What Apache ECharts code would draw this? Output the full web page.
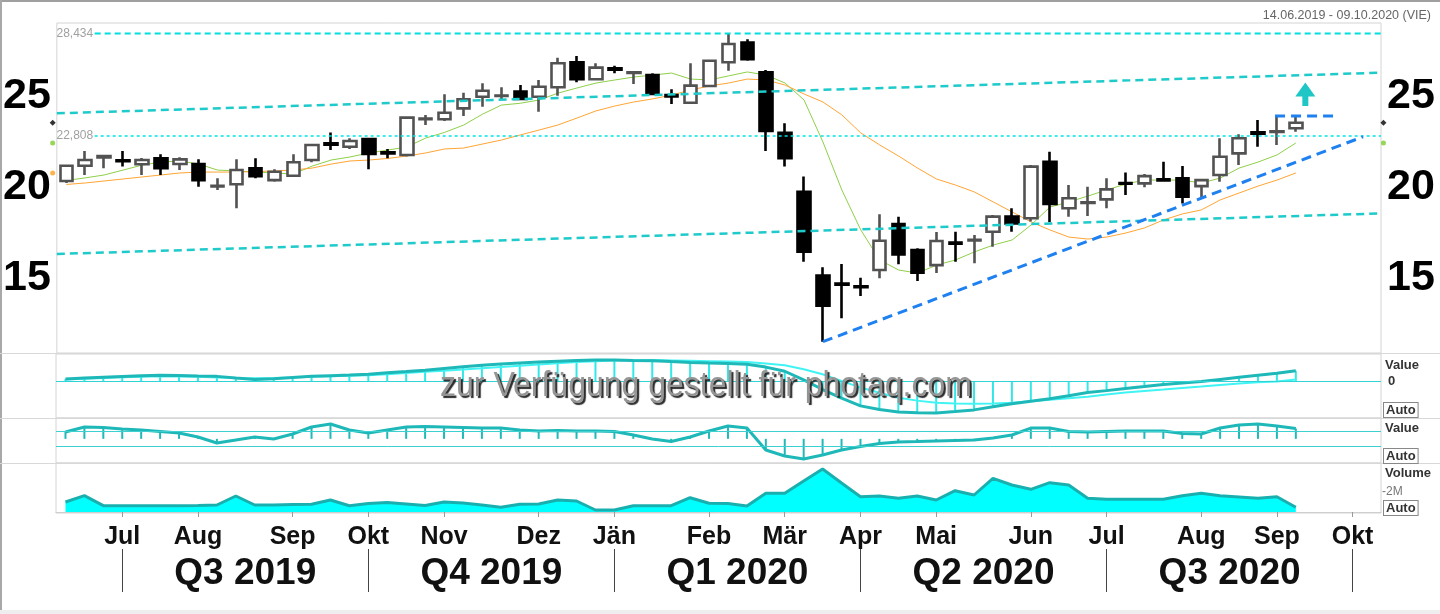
<!DOCTYPE html>
<html><head><meta charset="utf-8">
<script src="https://cdn.jsdelivr.net/npm/echarts@6/dist/echarts.min.js"></script>
<style>html,body{margin:0;padding:0;background:#fff}#c{width:1440px;height:614px}</style>
</head><body><div id="c"></div>
<script>
// ---------- data ----------
const weekStart = '2019-06-10';
const weekCount = 70;
const categories = [];
(function(){ const d = new Date(weekStart + 'T00:00:00Z'); for (let i = 0; i < weekCount; i++) { categories.push(new Date(d.getTime() + i * 7 * 864e5).toISOString().slice(0,10)); } })();

const opens  = [20.33,21.17,21.62,21.47,21.25,21.58,21.26,21.26,20.03,20.15,21.03,20.38,20.62,21.48,22.40,22.21,22.64,21.90,21.76,23.72,23.72,24.32,24.96,25.00,25.24,24.96,25.48,26.85,25.92,26.52,26.26,26.15,25.05,24.63,25.55,26.85,27.93,26.30,22.98,19.74,15.13,14.70,14.55,15.44,17.97,16.54,15.71,16.95,17.07,17.54,18.37,18.28,21.39,18.83,19.12,19.32,20.22,20.20,20.42,20.48,20.05,20.66,21.85,23.00,23.02,23.23];
const closes = [21.17,21.48,21.70,21.42,21.48,21.03,21.52,20.37,20.07,20.93,20.60,20.84,21.36,22.31,22.33,22.53,21.81,21.85,23.81,23.76,24.08,24.82,25.29,25.03,24.84,25.51,26.80,25.92,26.56,26.45,26.30,25.11,24.98,25.57,26.94,27.86,27.02,23.08,21.58,16.45,13.48,14.63,14.50,17.05,16.30,15.29,17.03,16.88,17.10,18.37,18.00,21.12,19.07,19.38,19.16,19.87,20.18,20.60,20.36,19.47,20.38,21.66,22.68,22.93,23.06,23.53];
const lows   = [20.22,20.66,21.03,21.12,20.66,20.66,20.93,20.02,19.84,18.83,20.48,20.29,20.62,21.36,22.03,22.09,20.97,21.58,21.67,23.41,23.63,23.90,24.41,24.78,24.78,24.14,25.02,25.75,25.88,26.25,25.66,25.10,24.56,24.63,25.50,26.39,26.94,21.98,21.12,15.90,11.50,12.79,14.01,14.98,15.75,14.84,15.27,15.90,15.81,16.72,17.54,18.10,18.06,18.37,18.40,18.83,19.56,19.98,20.29,19.10,19.38,20.29,21.21,22.21,22.31,23.04];
const highs  = [21.22,21.98,21.72,21.98,21.60,21.80,21.63,21.52,20.48,21.52,21.58,20.97,21.80,22.31,23.00,22.68,22.64,22.09,23.85,23.96,25.09,25.18,25.70,25.48,25.60,25.88,27.10,27.20,26.80,26.66,26.32,26.25,25.37,26.80,26.98,28.43,28.12,26.43,23.50,20.57,15.59,15.77,15.02,18.50,18.37,16.63,17.53,17.54,17.36,18.46,18.83,21.21,21.94,20.11,20.02,20.48,20.79,20.71,21.39,21.15,20.42,22.68,22.90,23.68,23.90,23.90];

const maShort = [20.36,20.50,20.66,20.93,21.20,21.37,21.43,21.26,20.93,20.88,20.82,20.77,20.71,21.15,21.48,21.65,21.87,22.03,22.20,22.69,23.00,23.40,24.00,24.50,24.60,24.78,25.16,25.44,25.71,25.88,26.04,26.15,26.26,25.93,25.88,26.10,26.32,26.15,25.71,24.78,22.47,19.83,17.64,15.99,15.44,15.27,15.71,15.99,16.43,16.81,17.09,17.91,18.90,19.18,19.50,19.84,20.16,20.38,20.38,20.38,20.22,20.49,21.04,21.37,21.76,22.42];
const maLong  = [20.14,20.22,20.33,20.44,20.55,20.66,20.77,20.82,20.82,20.82,20.85,20.88,20.93,21.04,21.26,21.43,21.48,21.57,21.70,21.87,22.09,22.14,22.36,22.58,22.86,23.13,23.41,23.79,24.18,24.45,24.67,24.84,25.05,25.33,25.55,25.71,25.93,25.88,25.60,25.11,24.67,23.96,22.97,22.31,21.70,21.04,20.44,20.11,19.73,19.18,18.63,18.08,17.64,17.25,17.14,17.25,17.47,17.75,18.19,18.52,18.74,19.29,19.67,20.05,20.38,20.77];

const macdLine   = [0.18,0.25,0.32,0.38,0.44,0.48,0.46,0.42,0.39,0.25,0.14,0.20,0.30,0.39,0.45,0.50,0.56,0.68,0.78,0.89,1.03,1.17,1.31,1.40,1.48,1.56,1.63,1.69,1.73,1.73,1.70,1.68,1.60,1.53,1.48,1.44,1.39,1.15,0.81,0.10,-0.69,-1.40,-2.03,-2.33,-2.53,-2.60,-2.61,-2.50,-2.36,-2.10,-1.86,-1.65,-1.44,-1.20,-0.94,-0.78,-0.61,-0.45,-0.28,-0.15,-0.03,0.14,0.31,0.48,0.64,0.85];
const signalLine = [0.14,0.20,0.26,0.32,0.36,0.39,0.38,0.35,0.30,0.26,0.23,0.26,0.30,0.35,0.40,0.44,0.48,0.56,0.66,0.76,0.86,0.96,1.06,1.16,1.26,1.36,1.46,1.56,1.64,1.69,1.72,1.73,1.70,1.67,1.64,1.60,1.56,1.45,1.31,0.98,0.56,0.02,-0.53,-0.95,-1.36,-1.60,-1.78,-1.84,-1.86,-1.83,-1.78,-1.66,-1.53,-1.40,-1.28,-1.10,-0.94,-0.81,-0.69,-0.56,-0.44,-0.31,-0.19,-0.10,-0.03,0.14];

const oscValues = [0.87,1.51,1.45,1.25,1.13,0.94,0.75,0.24,-0.53,-0.15,0.24,-0.02,0.62,1.51,1.89,1.13,0.75,1.13,1.51,1.57,1.51,1.45,1.38,1.38,1.13,1.00,1.06,1.00,1.00,0.94,0.49,-0.02,-0.34,0.24,1.00,1.64,1.38,-1.42,-2.18,-2.57,-2.06,-1.42,-0.97,-0.59,-0.40,-0.34,-0.27,-0.21,-0.15,0.11,0.49,1.38,1.38,0.94,0.87,0.94,1.00,1.00,1.00,0.68,0.62,1.38,1.76,1.89,1.64,1.32];
const oscLevels = [1, -1];

const volumes = [1.00,1.63,0.63,0.63,0.63,0.63,0.63,0.65,0.70,1.60,0.70,0.70,0.75,0.77,1.20,0.63,0.85,0.95,0.80,0.65,1.00,0.90,0.70,0.47,0.77,0.80,1.20,1.10,0.20,0.20,0.63,0.63,0.63,1.43,0.87,0.85,0.60,1.87,1.87,3.10,4.30,2.90,1.53,1.60,1.37,1.60,1.20,2.13,1.70,3.37,2.70,2.27,2.93,2.70,1.37,1.27,1.27,1.27,1.27,1.63,1.87,1.63,1.50,1.37,1.53,0.47];
const volumeTicks = [2];

const priceTicks = [15, 20, 25];
const monthTickIdx = [3,7,12,16,20,25,29,34,38,42,46,51,55,60,64,68];
const monthLabels  = ['Jul','Aug','Sep','Okt','Nov','Dez','Jän','Feb','Mär','Apr','Mai','Jun','Jul','Aug','Sep','Okt'];
const quarterBounds = [3,16,29,42,55,68];
const quarterLabels = ['Q3 2019','Q4 2019','Q1 2020','Q2 2020','Q3 2020'];

const resistance = 28.434;
const support = 22.808;
const levelSpan = [1.5, 69.5];
const upperChannel = [[-0.5,24.05],[69.5,26.28]];
const lowerChannel = [[-0.5,16.32],[69.5,18.55]];
const trendLine    = [[40.0,11.5],[68.55,22.76]];
const breakoutLine = [[63.9,23.9],[67.0,23.9]];
const arrowUp      = [[65.5,24.45],[65.5,25.35]];
const markerX = [-0.72, 69.63];

// ---------- chart ----------
const FONT = "'Liberation Sans', Arial, sans-serif";
const quarterCenters = quarterLabels.map((q,i)=>(quarterBounds[i]+quarterBounds[i+1])/2);
const last = a => a[a.length-1];
const chart = echarts.init(document.getElementById('c'), null, {renderer:'canvas'});
const gridBase = {left:56, right:59, show:true, borderColor:'#d4d4d4', borderWidth:1, backgroundColor:'transparent'};
const hiddenCat = g => ({type:'category', gridIndex:g, data:categories, show:false, boundaryGap:true});
const hiddenVal = g => ({type:'value', gridIndex:g, min:-0.5, max:69.5, show:false});
const priceAxis = pos => ({type:'value', gridIndex:0, min:10.88, max:29.01, position:pos, splitLine:{show:false}, axisLine:{show:false},
  axisTick:{show:false},
  axisLabel:{customValues:priceTicks, fontSize:43, fontWeight:'bold', color:'#000', margin:6, fontFamily:FONT}});

const lineSeries = (data, color, width, type, extra) => Object.assign({type:'line', xAxisIndex:1, yAxisIndex:0, data, symbol:'none', silent:true,
  lineStyle:{color, width, type}, z:6}, extra||{});

const option = {
  animation:false,
  backgroundColor:'#fff',
  textStyle:{fontFamily:FONT},
  title:{text:'14.06.2019 - 09.10.2020 (VIE)', right:4, top:4, textStyle:{fontSize:12.5, fontWeight:'normal', color:'#666', fontFamily:FONT}},
  grid:[
    Object.assign({top:23, height:330}, gridBase),
    Object.assign({top:354, height:64}, gridBase),
    Object.assign({top:418, height:45}, gridBase),
    Object.assign({top:463, height:50}, gridBase)
  ],
  xAxis:[
    hiddenCat(0), hiddenVal(0), hiddenCat(1), hiddenCat(2),
    {type:'category', gridIndex:3, data:categories, boundaryGap:true,
      axisLine:{show:true, lineStyle:{color:'#cfcfcf'}},
      axisTick:{show:true, alignWithLabel:true, interval:(i)=>monthTickIdx.includes(i), length:5, lineStyle:{color:'#999'}},
      axisLabel:{interval:(i)=>monthTickIdx.includes(i), formatter:(v,i)=>monthLabels[monthTickIdx.indexOf(i)] || '',
        fontSize:25, fontWeight:'bold', color:'#111', margin:12, fontFamily:FONT}},
    {type:'value', gridIndex:3, min:-0.5, max:69.5, position:'bottom', offset:36,
      axisLine:{show:false}, splitLine:{show:false},
      axisTick:{show:true, customValues:quarterBounds, length:43, lineStyle:{color:'#444', width:1}},
      axisLabel:{customValues:quarterCenters, formatter:(v)=>{const k=quarterCenters.indexOf(v); return k>=0?quarterLabels[k]:'';},
        fontSize:37, fontWeight:'bold', color:'#111', margin:6, fontFamily:FONT}},
    hiddenVal(1)
  ],
  yAxis:[
    priceAxis('left'), priceAxis('right'),
    {type:'value', gridIndex:1, min:-3.025, max:2.225, position:'right', splitLine:{show:false}, axisLine:{show:false},
      axisTick:{show:false}, axisLabel:{customValues:[0], fontSize:13, fontWeight:'bold', color:'#333', margin:7, fontFamily:FONT}},
    {type:'value', gridIndex:2, min:-3.08, max:2.66, show:false},
    {type:'value', gridIndex:3, min:-0.1, max:4.9, position:'right', splitLine:{show:false}, axisLine:{show:false},
      axisTick:{show:false},
      axisLabel:{customValues:volumeTicks, formatter:'-{value}M', fontSize:12, color:'#777', margin:1, fontFamily:FONT}}
  ],
  graphic:[
    {type:'rect', shape:{x:0,y:0,width:1440,height:2}, style:{fill:'#a0a0a0'}, silent:true},
    {type:'rect', shape:{x:0,y:0,width:2,height:614}, style:{fill:'#a8a8a8'}, silent:true},
    {type:'rect', shape:{x:0,y:610,width:1440,height:4}, style:{fill:'#eeeeee'}, silent:true},
    {type:'line', shape:{x1:0,y1:353.5,x2:1440,y2:353.5}, style:{stroke:'#d8d8d8', lineWidth:1}, silent:true},
    {type:'line', shape:{x1:0,y1:418.5,x2:1440,y2:418.5}, style:{stroke:'#d8d8d8', lineWidth:1}, silent:true},
    {type:'line', shape:{x1:0,y1:463.5,x2:1440,y2:463.5}, style:{stroke:'#d8d8d8', lineWidth:1}, silent:true},
    {type:'text', x:1385, y:359, style:{text:'Value', font:'bold 13px '+FONT, fill:'#333'}, silent:true},
    {type:'text', x:1384, y:403, style:{text:'Auto', font:'bold 13px '+FONT, fill:'#333', borderColor:'#888', borderWidth:1, padding:[1,2,0,2], backgroundColor:'#fff'}, silent:true},
    {type:'text', x:1385, y:422, style:{text:'Value', font:'bold 13px '+FONT, fill:'#333'}, silent:true},
    {type:'text', x:1384, y:449, style:{text:'Auto', font:'bold 13px '+FONT, fill:'#333', borderColor:'#888', borderWidth:1, padding:[1,2,0,2], backgroundColor:'#fff'}, silent:true},
    {type:'text', x:1385, y:467, style:{text:'Volume', font:'bold 13px '+FONT, fill:'#333'}, silent:true},
    {type:'text', x:1384, y:501, style:{text:'Auto', font:'bold 13px '+FONT, fill:'#333', borderColor:'#888', borderWidth:1, padding:[1,2,0,2], backgroundColor:'#fff'}, silent:true},
    {type:'text', x:706, y:386, scaleY:1.1, z:100, style:{text:'zur Verfügung gestellt für photaq.com', font:'32px '+FONT, fill:'#959595',
      align:'center', verticalAlign:'middle', textShadowColor:'#2a2a2a', textShadowOffsetX:2, textShadowOffsetY:2, textShadowBlur:1}, silent:true}
  ],
  series:[
    {type:'line', xAxisIndex:0, yAxisIndex:0, data:maShort, symbol:'none', lineStyle:{color:'#8fd04a', width:1}, z:3, silent:true},
    {type:'line', xAxisIndex:0, yAxisIndex:0, data:maLong, symbol:'none', lineStyle:{color:'#ffa534', width:1}, z:3, silent:true},
    {type:'candlestick', xAxisIndex:0, yAxisIndex:0, barWidth:13, z:4, silent:true,
      data: opens.map((o,i)=>[o, closes[i], lows[i], highs[i]]),
      itemStyle:{color:'#ffffff', color0:'#000000', borderColor:'#525252', borderColor0:'#000000', borderWidth:2.6}},
    lineSeries(levelSpan.map(x=>[x,resistance]), '#00dede', 2, [6,4]),
    lineSeries(levelSpan.map(x=>[x,support]), '#00e4e4', 1.5, [3,3]),
    lineSeries(upperChannel, '#1ecaca', 2.5, [8,5]),
    lineSeries(lowerChannel, '#1ecaca', 2.5, [8,5]),
    lineSeries(trendLine, '#1f80f0', 3, [10,6]),
    lineSeries(breakoutLine, '#1f80f0', 3, [10,6]),
    lineSeries([arrowUp[0], {value:arrowUp[1], symbol:'triangle', symbolSize:[20,14], itemStyle:{color:'#1ec6c6'}}], '#1ec6c6', 6, 'solid', {symbol:'none', showSymbol:true}),
    {type:'scatter', xAxisIndex:1, yAxisIndex:0, symbolSize:1, itemStyle:{color:'transparent'}, silent:true, z:7,
      data:[[levelSpan[0],resistance],[levelSpan[0],support]],
      label:{show:true, position:'left', distance:1, color:'#888', fontSize:12, fontFamily:FONT,
        formatter:(p)=>p.value[1].toFixed(3).replace('.',',')}},
    {type:'scatter', xAxisIndex:1, yAxisIndex:0, clip:false, silent:true, z:8, symbolSize:6,
      data:[
        {value:[markerX[0], last(closes)], symbol:'diamond', itemStyle:{color:'#000'}},
        {value:[markerX[0], last(maShort)], symbol:'circle', symbolSize:5, itemStyle:{color:'#7ccc30'}},
        {value:[markerX[0], last(maLong)], symbol:'circle', symbolSize:5, itemStyle:{color:'#ffa020'}},
        {value:[markerX[1], last(closes)], symbol:'diamond', itemStyle:{color:'#000'}},
        {value:[markerX[1], last(maShort)], symbol:'circle', symbolSize:5, itemStyle:{color:'#7ccc30'}}
      ]},
    {type:'bar', xAxisIndex:2, yAxisIndex:2, data:macdLine, barWidth:2, itemStyle:{color:'#33e8e8'}, silent:true, z:2},
    {type:'line', xAxisIndex:2, yAxisIndex:2, data:signalLine, symbol:'none', lineStyle:{color:'#40f4f4', width:2}, silent:true, z:3},
    {type:'line', xAxisIndex:2, yAxisIndex:2, data:macdLine, symbol:'none', lineStyle:{color:'#1fb8b8', width:3}, silent:true, z:4,
      markLine:{silent:true, symbol:'none', label:{show:false}, data:[{yAxis:0}], lineStyle:{color:'#30d4d4', width:1, type:'solid'}}},
    {type:'scatter', xAxisIndex:5, yAxisIndex:2, clip:false, silent:true, symbol:'diamond', symbolSize:6, itemStyle:{color:'#20c4c4'}, data:[[markerX[1],0]]},
    {type:'bar', xAxisIndex:3, yAxisIndex:3, data:oscValues, barWidth:2, itemStyle:{color:'#20b8b8'}, silent:true, z:2},
    {type:'line', xAxisIndex:3, yAxisIndex:3, data:oscValues, symbol:'none', lineStyle:{color:'#1fb8b8', width:3}, silent:true, z:4,
      markLine:{silent:true, symbol:'none', label:{show:false}, data:oscLevels.map(v=>({yAxis:v})), lineStyle:{color:'#3cd0d0', width:1, type:'solid'}}},
    {type:'line', xAxisIndex:4, yAxisIndex:4, data:volumes, symbol:'none', lineStyle:{color:'#1aafaf', width:3},
      areaStyle:{color:'#00ffff', opacity:1}, silent:true}
  ]
};
chart.setOption(option);
</script>
</body></html>
